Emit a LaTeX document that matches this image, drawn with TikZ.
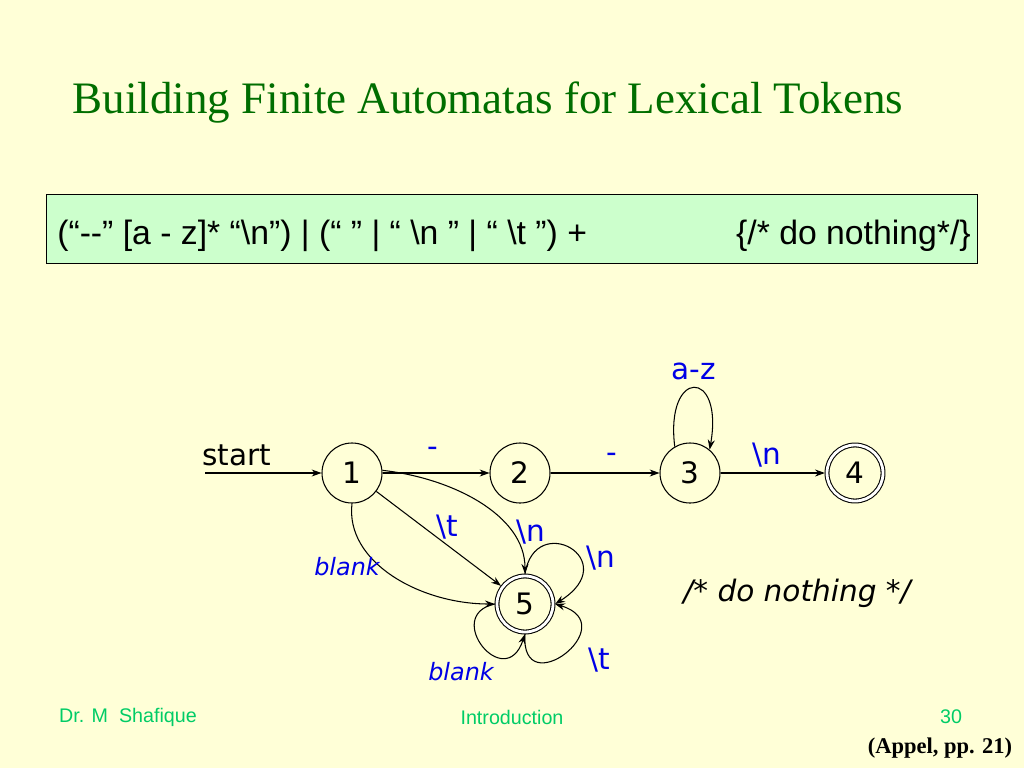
\documentclass[tikz,border=0pt]{standalone}
\usepackage{fontspec}
\usepackage{xcolor}
\usetikzlibrary{arrows.meta}
\setmainfont{Liberation Serif}
\newfontfamily\arialfont{Liberation Sans}
\newfontfamily\fafont{DejaVu Sans}
\definecolor{slidebg}{RGB}{255,255,215}
\definecolor{titlegreen}{RGB}{0,110,0}
\definecolor{boxgreen}{RGB}{204,255,204}
\definecolor{footgreen}{RGB}{0,204,102}
\definecolor{lblblue}{RGB}{0,0,230}
\tikzset{
	state/.style={draw, line width=0.75pt, circle, minimum size=1.5cm, inner sep=0pt, font=\fafont\fontsize{21}{21}\selectfont},
	accept/.style={state, double, double distance=2pt, minimum size=1.4cm, outer sep=1.5pt},
	edge/.style={draw, line width=0.75pt, -{Stealth[length=7pt,width=5pt]}},
	lbl/.style={text=lblblue, inner sep=0pt, font=\fafont\fontsize{21}{21}\selectfont},
	blk/.style={text=lblblue, inner sep=0pt, font=\fafont\itshape\fontsize{17}{17}\selectfont},
	foot/.style={text=footgreen, inner sep=0pt, font=\arialfont\fontsize{14}{14}\selectfont}
}
\begin{document}
\begin{tikzpicture}[x=0.025cm, y=-0.025cm]
	\path[fill=slidebg] (0,0) rectangle (1024,768);

	% title
	\node[text=titlegreen, inner sep=0pt, font=\fontsize{32}{32}\selectfont] (ttl) at (488,103) {Building Finite Automatas for Lexical Tokens};

	% rule
	\node[draw, line width=0.8pt, fill=boxgreen, minimum width=23.25cm, minimum height=1.72cm, inner sep=0pt] (box) at (512,229) {};
	\node[anchor=west, inner sep=0pt, font=\arialfont\fontsize{24}{24}\selectfont] (lhs) at (57,236) {(“-{}-” [a - z]* “\textbackslash n”) | (“ ” | “ \textbackslash n ” | “ \textbackslash t ”) +};
	\node[anchor=east, inner sep=0pt, font=\arialfont\fontsize{24}{24}\selectfont] (rhs) at (971,236) {\{/* do nothing*/\}};

	% states
	\node[state] (n1) at (352,473) {1};
	\node[state] (n2) at (520,473) {2};
	\node[state] (n3) at (690,473) {3};
	\node[accept] (n4) at (855,473) {4};
	\node[accept] (n5) at (525,604) {5};

	\coordinate (st) at (205,473);
	\node[inner sep=0pt, font=\fafont\fontsize{21}{21}\selectfont] (lst) at (237,455) {start};

	% transitions
	\draw[edge] (st) -- (n1);
	\draw[edge] (n1) -- (n2);
	\draw[edge] (n2) -- (n3);
	\draw[edge] (n3) -- (n4);
	\draw[edge] (n3.120) .. controls (665,368) and (724,368) .. (n3.50);
	\draw[edge] (n1) -- (n5);
	\draw[edge] (n1.5) .. controls (452,478) and (525,515) .. (n5.north);
	\draw[edge] (n1.south) .. controls (345,562) and (420,604) .. (n5.west);
	\draw[edge] (n5.north) .. controls (535,510) and (625,560) .. (n5.east);
	\draw[edge] (n5.south) .. controls (520,705) and (625,625) .. (n5.east);
	\draw[edge] (n5.west) .. controls (442,615) and (505,694) .. (n5.south);

	\node[lbl] (l12) at (433,452) {-};
	\node[lbl] (l23) at (612,458) {-};
	\node[lbl] (l34) at (767,455) {\textbackslash n};
	\node[lbl] (l33) at (694,371) {a-z};
	\node[lbl] (l15t) at (447,527) {\textbackslash t};
	\node[lbl] (l15n) at (531,532) {\textbackslash n};
	\node[blk] (l15b) at (347,567) {blank};
	\node[lbl] (l55n) at (601,558) {\textbackslash n};
	\node[lbl] (l55t) at (599,660) {\textbackslash t};
	\node[blk] (l55b) at (461,672) {blank};

	\node[inner sep=0pt, font=\fafont\itshape\fontsize{21}{21}\selectfont] (cmt) at (797,593) {/* do nothing */};

	% footer
	\node[foot] (fl) at (128,717) {Dr. M\ \ Shafique};
	\node[foot] (fc) at (512,717) {Introduction};
	\node[foot] (fr) at (951,717) {30};
	\node[inner sep=0pt, font=\bfseries\fontsize{16}{16}\selectfont] (ref) at (940,748) {(Appel, pp. 21)};
\end{tikzpicture}
\end{document}
